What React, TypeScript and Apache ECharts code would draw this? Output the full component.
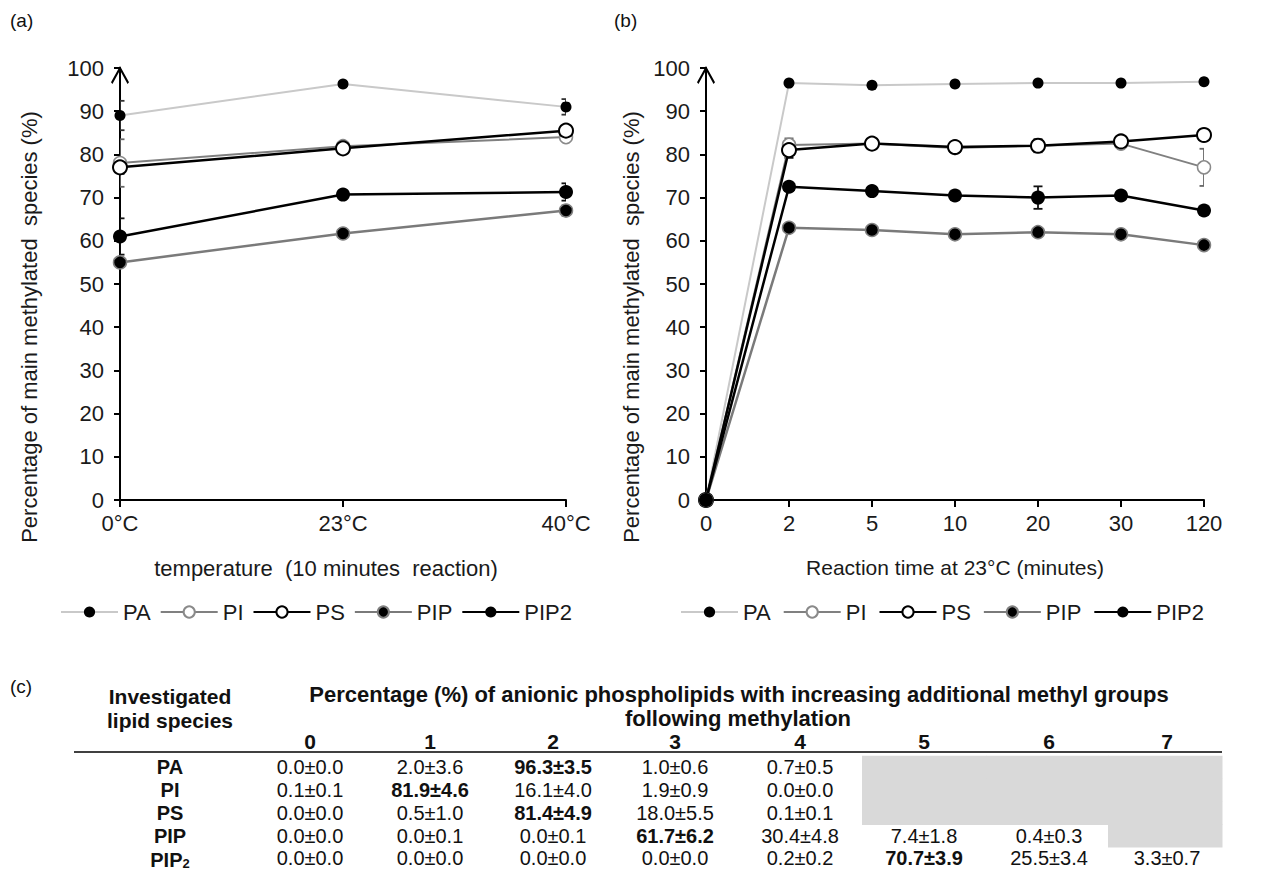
import React, { useEffect, useRef } from 'react';
import * as echarts from 'echarts';

// ---------- data ----------
const seriesNames = ['PA', 'PI', 'PS', 'PIP', 'PIP2'];
const tempCategories = ['0°C', '23°C', '40°C'];
const timeCategories = ['0', '2', '5', '10', '20', '30', '120'];

// panel (a): temperature
const tempPA = [89, 96.3, 91];
const tempPI = [78, 81.9, 84];
const tempPS = [77, 81.4, 85.5];
const tempPIP = [55, 61.7, 67];
const tempPIP2 = [61, 70.7, 71.3];
const tempErrPA = [3.4, 0.5, 1.8];
const tempErrPI = [5.5, 0.8, 0.8];
const tempErrPS = [1.5, 0.8, 1];
const tempErrPIP = [1, 0.5, 1.2];
const tempErrPIP2 = [4.2, 0.8, 2];

// panel (b): reaction time
const timePA = [0, 96.5, 96, 96.3, 96.5, 96.5, 96.8];
const timePI = [0, 82.2, 82.5, 81.5, 82, 82.5, 77];
const timePS = [0, 81, 82.5, 81.7, 82, 83, 84.5];
const timePIP = [0, 63, 62.5, 61.5, 62, 61.5, 59];
const timePIP2 = [0, 72.5, 71.5, 70.5, 70, 70.5, 67];
const timeErrPA = [0, 0.3, 0.3, 0.3, 0.3, 0.3, 0.3];
const timeErrPI = [0, 1.5, 0.5, 0.5, 0.5, 0.5, 4.3];
const timeErrPS = [0, 1.8, 0.5, 0.8, 1.5, 0.5, 0.5];
const timeErrPIP = [0, 0.5, 0.8, 0.5, 0.5, 0.5, 0.5];
const timeErrPIP2 = [0, 0.8, 0.8, 0.8, 2.6, 0.8, 0.5];

// panel (c): table
const tableLipids = ['PA', 'PI', 'PS', 'PIP', 'PIP2'];
const tableMethylCols = ['0', '1', '2', '3', '4', '5', '6', '7'];
const rowPA = ['0.0±0.0', '2.0±3.6', '96.3±3.5', '1.0±0.6', '0.7±0.5', '', '', ''];
const rowPI = ['0.1±0.1', '81.9±4.6', '16.1±4.0', '1.9±0.9', '0.0±0.0', '', '', ''];
const rowPS = ['0.0±0.0', '0.5±1.0', '81.4±4.9', '18.0±5.5', '0.1±0.1', '', '', ''];
const rowPIP = ['0.0±0.0', '0.0±0.1', '0.0±0.1', '61.7±6.2', '30.4±4.8', '7.4±1.8', '0.4±0.3', ''];
const rowPIP2 = ['0.0±0.0', '0.0±0.0', '0.0±0.0', '0.0±0.0', '0.2±0.2', '70.7±3.9', '25.5±3.4', '3.3±0.7'];
const tableRows = [rowPA, rowPI, rowPS, rowPIP, rowPIP2];
const boldColumn = [2, 1, 2, 3, 5];

// ---------- styles ----------
const FONT = '"Liberation Sans", Arial, sans-serif';
const TXT = '#1a1a1a';

const seriesStyle: Record<string, any> = {
  PA: { line: '#c9c9c9', width: 2, size: 11, fill: '#000', border: '#000', bw: 0 },
  PI: { line: '#808080', width: 2, size: 13, fill: '#fff', border: '#8a8a8a', bw: 1.5 },
  PS: { line: '#000', width: 2.5, size: 14, fill: '#fff', border: '#000', bw: 2 },
  PIP: { line: '#7a7a7a', width: 2.5, size: 13, fill: '#000', border: '#808080', bw: 1.5 },
  PIP2: { line: '#000', width: 2.5, size: 14, fill: '#000', border: '#000', bw: 0 },
};

const arrowPath = 'path://M0,9 L5,0 L10,9 L9.2,10 L5,2.4 L0.8,10 Z';

function lineSeries(name: string, data: number[], axisIndex: number) {
  const s = seriesStyle[name];
  return {
    type: 'line',
    name,
    xAxisIndex: axisIndex,
    yAxisIndex: axisIndex,
    data,
    symbol: 'circle',
    symbolSize: s.size,
    clip: false,
    z: 3,
    lineStyle: { color: s.line, width: s.width },
    itemStyle: { color: s.fill, borderColor: s.border, borderWidth: s.bw },
  };
}

function errorSeries(name: string, data: number[], errs: number[], axisIndex: number) {
  const s = seriesStyle[name];
  const color = name === 'PA' ? '#333' : s.border === '#000' ? '#111' : '#666';
  return {
    type: 'custom',
    name: 'err-' + name,
    xAxisIndex: axisIndex,
    yAxisIndex: axisIndex,
    z: 2,
    clip: true,
    silent: true,
    data: data.map((v, i) => [i, v, errs[i]]),
    renderItem: (params: any, api: any) => {
      const x = api.value(0);
      const y = api.value(1);
      const e = api.value(2);
      if (!e) return null;
      const hi = api.coord([x, y + e]);
      const lo = api.coord([x, y - e]);
      const w = 4.5;
      const st = { stroke: color, lineWidth: 1.8 };
      return {
        type: 'group',
        children: [
          { type: 'line', shape: { x1: hi[0], y1: hi[1], x2: lo[0], y2: lo[1] }, style: st },
          { type: 'line', shape: { x1: hi[0] - w, y1: hi[1], x2: hi[0] + w, y2: hi[1] }, style: st },
          { type: 'line', shape: { x1: lo[0] - w, y1: lo[1], x2: lo[0] + w, y2: lo[1] }, style: st },
        ],
      };
    },
  };
}

function xAxis(gridIndex: number, data: string[], name: string, nameGap: number, shiftLeft: number, nameSize: number) {
  return {
    gridIndex,
    type: 'category',
    data,
    boundaryGap: false,
    name,
    nameLocation: 'middle',
    nameGap,
    nameTextStyle: { fontSize: nameSize, color: TXT, fontFamily: FONT, padding: [0, shiftLeft * 2, 0, 0] },
    axisLine: { lineStyle: { color: '#000', width: 2 } },
    axisTick: { show: true, length: 7, lineStyle: { color: '#000', width: 2 } },
    axisLabel: { fontSize: 22, color: TXT, fontFamily: FONT, margin: 12 },
    splitLine: { show: false },
  };
}

function yAxis(gridIndex: number, nameGap: number) {
  return {
    gridIndex,
    type: 'value',
    min: 0,
    max: 100,
    interval: 10,
    name: 'Percentage of main methylated  species (%)',
    nameLocation: 'middle',
    nameGap,
    // right padding shifts the rotated title downwards
    nameTextStyle: { fontSize: 22, color: TXT, fontFamily: FONT, padding: [0, 86, 0, 0] },
    axisLine: {
      show: true,
      symbol: ['none', arrowPath],
      symbolSize: [22, 18],
      symbolOffset: [0, -7],
      lineStyle: { color: '#000', width: 2 },
    },
    axisTick: { show: true, length: 6, lineStyle: { color: '#000', width: 2 } },
    axisLabel: { fontSize: 22, color: TXT, fontFamily: FONT, margin: 16 },
    splitLine: { show: false },
  };
}

function legend(left: number, gap: number) {
  return {
    data: seriesNames,
    left,
    top: 596,
    orient: 'horizontal',
    itemWidth: 57,
    itemHeight: 14,
    itemGap: gap,
    selectedMode: false,
    textStyle: { fontSize: 22, color: TXT, fontFamily: FONT },
  };
}

// ---------- table graphic ----------
function buildTable() {
  const els: any[] = [];
  const colX = [310, 430, 553, 675, 800, 924, 1049, 1167];
  const rowY = [767, 790, 813, 835.5, 858];
  const rowH = 22.75;
  const tableLeft = 74;
  const tableRight = 1222;
  const lipidX = 170;

  // gray cells
  tableRows.forEach((row, r) => {
    row.forEach((cell, c) => {
      if (cell === '') {
        const x0 = (colX[c - 1] + colX[c]) / 2;
        const x1 = c === colX.length - 1 ? tableRight : (colX[c] + colX[c + 1]) / 2;
        els.push({
          type: 'rect',
          shape: { x: x0, y: rowY[r] - rowH / 2, width: x1 - x0 + 0.5, height: rowH + 0.5 },
          style: { fill: '#d9d9d9' },
          z: 1,
        });
      }
    });
  });

  // header line
  els.push({
    type: 'line',
    shape: { x1: tableLeft, y1: 752, x2: tableRight, y2: 752 },
    style: { stroke: '#404040', lineWidth: 2 },
    z: 5,
  });

  const bold = (text: string, x: number, y: number, size: number) => ({
    type: 'text',
    x,
    y,
    z: 10,
    style: { text, fill: '#111', fontSize: size, fontWeight: 'bold', fontFamily: FONT, align: 'center', verticalAlign: 'middle' },
  });

  els.push(bold('Investigated', lipidX, 696, 21));
  els.push(bold('lipid species', lipidX, 720, 21));
  els.push(bold('Percentage (%) of anionic phospholipids with increasing additional methyl groups', 739, 694, 22));
  els.push(bold('following methylation', 738, 718, 22));

  tableMethylCols.forEach((label, c) => els.push(bold(label, colX[c], 741, 21)));

  tableLipids.forEach((lipid, r) => {
    if (lipid === 'PIP2') {
      els.push({
        type: 'text',
        x: lipidX,
        y: rowY[r],
        z: 10,
        style: {
          text: '{n|PIP}{s|2}',
          fill: '#111',
          fontFamily: FONT,
          align: 'center',
          verticalAlign: 'middle',
          rich: {
            n: { fontSize: 20, fontWeight: 'bold', fontFamily: FONT, fill: '#111', lineHeight: 24, verticalAlign: 'bottom' },
            s: { fontSize: 13, fontWeight: 'bold', fontFamily: FONT, fill: '#111', lineHeight: 12, verticalAlign: 'bottom' },
          },
        },
      });
    } else {
      els.push(bold(lipid, lipidX, rowY[r], 20));
    }
    tableRows[r].forEach((cell, c) => {
      if (!cell) return;
      els.push({
        type: 'text',
        x: colX[c],
        y: rowY[r],
        z: 10,
        style: {
          text: cell,
          fill: '#111',
          fontSize: 20,
          fontWeight: boldColumn[r] === c ? 'bold' : 'normal',
          fontFamily: FONT,
          align: 'center',
          verticalAlign: 'middle',
        },
      });
    });
  });

  // panel labels
  const panel = (t: string, x: number, y: number) => ({
    type: 'text',
    x,
    y,
    z: 10,
    style: { text: t, fill: '#111', fontSize: 19, fontFamily: FONT, align: 'left', verticalAlign: 'middle' },
  });
  els.push(panel('(a)', 10, 20));
  els.push(panel('(b)', 614, 20));
  els.push(panel('(c)', 10, 686));
  return els;
}

function buildOption() {
  const tempData = [tempPA, tempPI, tempPS, tempPIP, tempPIP2];
  const tempErr = [tempErrPA, tempErrPI, tempErrPS, tempErrPIP, tempErrPIP2];
  const timeData = [timePA, timePI, timePS, timePIP, timePIP2];
  const timeErr = [timeErrPA, timeErrPI, timeErrPS, timeErrPIP, timeErrPIP2];
  const series: any[] = [];
  seriesNames.forEach((n, i) => {
    series.push(errorSeries(n, tempData[i], tempErr[i], 0));
    series.push(lineSeries(n, tempData[i], 0));
  });
  seriesNames.forEach((n, i) => {
    series.push(errorSeries(n, timeData[i], timeErr[i], 1));
    series.push(lineSeries(n, timeData[i], 1));
  });
  return {
    animation: false,
    backgroundColor: '#fff',
    textStyle: { fontFamily: FONT },
    grid: [
      { left: 120, top: 68, width: 446, height: 432 },
      { left: 706, top: 68, width: 498, height: 432 },
    ],
    xAxis: [
      xAxis(0, tempCategories, 'temperature  (10 minutes  reaction)', 57, 17, 22),
      xAxis(1, timeCategories, 'Reaction time at 23°C (minutes)', 57, 0, 21),
    ],
    yAxis: [yAxis(0, 80), yAxis(1, 64)],
    legend: [legend(55, 9), legend(675, 12)],
    series,
    graphic: buildTable(),
  };
}

export default function App() {
  const ref = useRef<HTMLDivElement>(null);
  useEffect(() => {
    document.body.style.margin = '0';
    const chart = echarts.init(ref.current as HTMLDivElement, null, { renderer: 'svg' });
    chart.setOption(buildOption() as any);
    return () => chart.dispose();
  }, []);
  return <div ref={ref} style={{ width: 1263, height: 887, position: 'absolute', left: 0, top: 0 }} />;
}
